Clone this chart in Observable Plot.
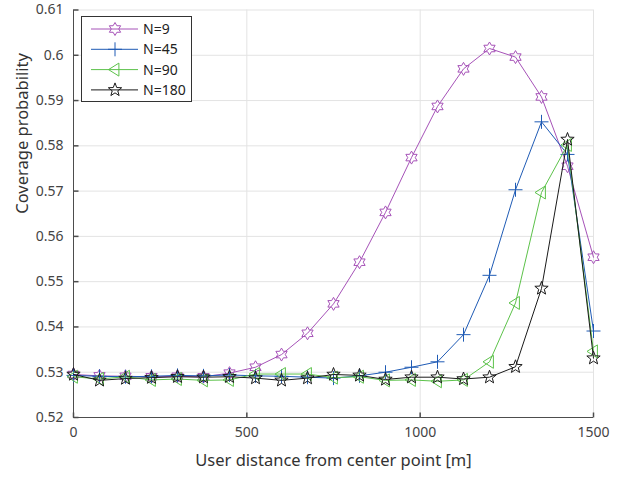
<!DOCTYPE html>
<html>
<head>
<meta charset="utf-8">
<script src="https://cdn.jsdelivr.net/npm/d3@7"></script>
<script src="https://cdn.jsdelivr.net/npm/@observablehq/plot@0.6"></script>
<style>
  html, body { margin: 0; padding: 0; background: #fff; }
  #chart { position: relative; width: 621px; height: 477px; }
</style>
</head>
<body>
<div id="chart"></div>
<script>
const distance = [0, 75, 150, 225, 300, 375, 450, 525, 600, 675, 750, 825, 900, 975, 1050, 1125, 1200, 1275, 1350, 1425, 1500];
const n9   = [0.5295,0.5292,0.5291,0.5290,0.5291,0.5290,0.5298,0.5311,0.5339,0.5386,0.5451,0.5543,0.5653,0.5774,0.5887,0.5970,0.6015,0.5996,0.5908,0.5755,0.5554];
const n45  = [0.5293,0.5291,0.5290,0.5291,0.5293,0.5292,0.5294,0.5292,0.5291,0.5289,0.5287,0.5292,0.5300,0.5311,0.5323,0.5383,0.5514,0.5703,0.5853,0.5781,0.5391];
const n90  = [0.5290,0.5285,0.5290,0.5283,0.5285,0.5282,0.5283,0.5296,0.5296,0.5296,0.5288,0.5290,0.5282,0.5283,0.5280,0.5283,0.5323,0.5453,0.5697,0.5802,0.5346];
const n180 = [0.5295,0.5282,0.5286,0.5288,0.5290,0.5289,0.5290,0.5287,0.5282,0.5287,0.5295,0.5293,0.5284,0.5289,0.5289,0.5285,0.5289,0.5312,0.5485,0.5814,0.5331];
const seriesNames = ["N=9", "N=45", "N=90", "N=180"];
const seriesColors = ["#a652b8", "#1f5bb5", "#5cc24a", "#1a1a1a"];
const xTicks = [0, 500, 1000, 1500];
const xTickLabels = ["0", "500", "1000", "1500"];
const yTicks = [0.52, 0.53, 0.54, 0.55, 0.56, 0.57, 0.58, 0.59, 0.60, 0.61];
const yTickLabels = ["0.52", "0.53", "0.54", "0.55", "0.56", "0.57", "0.58", "0.59", "0.6", "0.61"];
const xLabel = "User distance from center point [m]";
const yLabel = "Coverage probability";

// custom marker symbols
const hexagram = {draw(ctx, size) {
  const R = Math.sqrt(size / Math.PI), r = R / Math.sqrt(3);
  for (let i = 0; i < 12; i++) {
    const a = -Math.PI / 2 + i * Math.PI / 6, rr = i % 2 ? r : R;
    const px = rr * Math.cos(a), py = rr * Math.sin(a);
    i ? ctx.lineTo(px, py) : ctx.moveTo(px, py);
  }
  ctx.closePath();
}};
const plusSym = {draw(ctx, size) {
  const R = Math.sqrt(size / Math.PI);
  ctx.moveTo(-R, 0); ctx.lineTo(R, 0); ctx.moveTo(0, -R); ctx.lineTo(0, R);
}};
const triLeft = {draw(ctx, size) {
  const R = Math.sqrt(size / Math.PI);
  ctx.moveTo(-R, 0); ctx.lineTo(R * 0.6, -R); ctx.lineTo(R * 0.6, R); ctx.closePath();
}};
const pentagram = {draw(ctx, size) {
  const R = Math.sqrt(size / Math.PI), r = R * 0.42;
  for (let i = 0; i < 10; i++) {
    const a = -Math.PI / 2 + i * Math.PI / 5, rr = i % 2 ? r : R;
    const px = rr * Math.cos(a), py = rr * Math.sin(a);
    i ? ctx.lineTo(px, py) : ctx.moveTo(px, py);
  }
  ctx.closePath();
}};
const tickRight = {draw(ctx) { ctx.moveTo(0, 0); ctx.lineTo(5, 0); }};
const tickUp = {draw(ctx) { ctx.moveTo(0, 0); ctx.lineTo(0, -5); }};
const symbols = [hexagram, plusSym, triLeft, pentagram];
const symbolR = [6.5, 7, 6.5, 7];

const allSeries = [n9, n45, n90, n180];
const rows = [];
allSeries.forEach((vals, si) => vals.forEach((v, i) => rows.push({series: seriesNames[si], si, x: distance[i], y: v})));

const marks = [
  Plot.gridX(xTicks, {stroke: "#e3e3e3", strokeOpacity: 1}),
  Plot.gridY(yTicks, {stroke: "#e3e3e3", strokeOpacity: 1}),
  Plot.axisX(xTicks, {tickSize: 0, tickPadding: 10, tickFormat: (d, i) => xTickLabels[i], label: null, fontSize: 14, fill: "#444"}),
  Plot.axisY(yTicks, {tickSize: 0, tickPadding: 10, tickFormat: (d, i) => yTickLabels[i], label: null, fontSize: 14, fill: "#444"}),
  Plot.ruleX([0], {stroke: "#4d4d4d"}),
  Plot.ruleY([0.52], {stroke: "#4d4d4d"}),
  Plot.dot(yTicks, {y: d => d, frameAnchor: "left", symbol: tickRight, stroke: "#4d4d4d", r: 3}),
  Plot.dot(xTicks, {x: d => d, frameAnchor: "bottom", symbol: tickUp, stroke: "#4d4d4d", r: 3}),
];
seriesNames.forEach((name, si) => {
  const data = rows.filter(d => d.si === si);
  marks.push(Plot.line(data, {x: "x", y: "y", stroke: seriesColors[si], strokeWidth: 1}));
  marks.push(Plot.dot(data, {x: "x", y: "y", stroke: seriesColors[si], fill: "none", symbol: symbols[si], r: symbolR[si], strokeWidth: 1}));
});
marks.push(Plot.text([xLabel], {frameAnchor: "bottom", dy: 48, fontSize: 16.5, fill: "#333"}));
marks.push(Plot.text([yLabel], {frameAnchor: "left", rotate: -90, dx: -51, fontSize: 16.5, fill: "#333"}));

const chart = Plot.plot({
  width: 621, height: 477,
  marginLeft: 73, marginRight: 28, marginTop: 9.5, marginBottom: 60,
  x: {domain: [0, 1500]},
  y: {domain: [0.52, 0.61]},
  style: {fontFamily: "'Noto Sans', sans-serif", fontSize: "14px", color: "#444", background: "#fff", overflow: "visible"},
  marks
});
document.getElementById("chart").appendChild(chart);

// legend
const svg = d3.select(chart);
const lg = svg.append("g").attr("font-family", "'Noto Sans', sans-serif").attr("font-size", 14).attr("text-anchor", "start");
lg.append("rect").attr("x", 81.5).attr("y", 16.5).attr("width", 110).attr("height", 85)
  .attr("fill", "#fff").attr("stroke", "#333").attr("stroke-width", 1);
seriesNames.forEach((name, si) => {
  const yy = 29 + si * 20.3;
  lg.append("line").attr("x1", 91).attr("x2", 138).attr("y1", yy).attr("y2", yy)
    .attr("stroke", seriesColors[si]).attr("stroke-width", 1);
  lg.append("path").attr("transform", `translate(115,${yy})`)
    .attr("d", d3.symbol(symbols[si], Math.PI * symbolR[si] * symbolR[si])())
    .attr("fill", "none").attr("stroke", seriesColors[si]).attr("stroke-width", 1);
  lg.append("text").attr("x", 143).attr("y", yy).attr("dy", "0.35em").attr("text-anchor", "start").attr("fill", "#222").text(name);
});
</script>
</body>
</html>
